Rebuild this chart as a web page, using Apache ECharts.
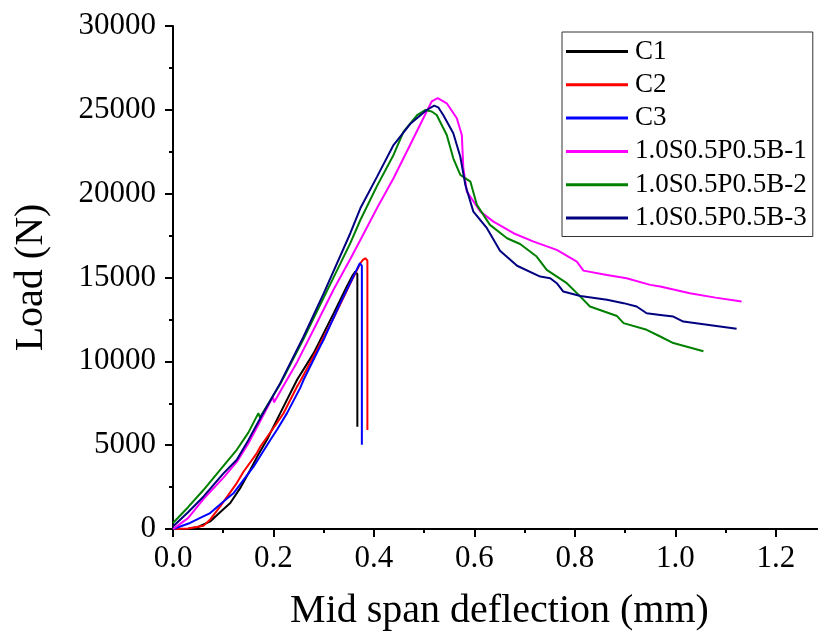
<!DOCTYPE html>
<html>
<head>
<meta charset="utf-8">
<script src="https://cdn.jsdelivr.net/npm/echarts@6/dist/echarts.min.js"></script>
<style>
  html, body { margin: 0; padding: 0; background: #fff; }
  #chart { width: 818px; height: 633px; }
</style>
</head>
<body>
<div id="chart"></div>
<script>
// Load vs. mid-span deflection, three plain specimens (C1-C3) and three hybrid ones
const seriesNames = ['C1', 'C2', 'C3', '1.0S0.5P0.5B-1', '1.0S0.5P0.5B-2', '1.0S0.5P0.5B-3'];
const seriesColors = ['#000000', '#ff0000', '#0000ff', '#ff00ff', '#008000', '#000080'];

const xTicks = [0, 0.2, 0.4, 0.6, 0.8, 1.0, 1.2];
const yTicks = [0, 5000, 10000, 15000, 20000, 25000, 30000];

// [deflection (mm), load (N)]
const c1 = [[0,0],[0.03,20],[0.05,120],[0.074,450],[0.09,900],[0.114,1550],[0.135,2500],[0.154,3530],[0.17,4450],[0.187,5320],[0.2135,6910],[0.247,8900],[0.28,10490],[0.30,11680],[0.32,12875],[0.346,14460],[0.358,15150],[0.363,15350],[0.367,15200],[0.367,6100]];
const c2 = [[0,0],[0.03,30],[0.061,200],[0.075,600],[0.094,1350],[0.127,2740],[0.14,3400],[0.167,4530],[0.174,4920],[0.207,6320],[0.22,6900],[0.247,8500],[0.253,8800],[0.287,10700],[0.32,12600],[0.353,14660],[0.373,15850],[0.378,16050],[0.383,16150],[0.387,16000],[0.387,5900]];
const c3 = [[0,0],[0.034,360],[0.05,600],[0.074,950],[0.107,1800],[0.121,2150],[0.16,3700],[0.194,5320],[0.207,5920],[0.227,6910],[0.253,8400],[0.26,8900],[0.293,10900],[0.30,11300],[0.333,13470],[0.359,15055],[0.372,15850],[0.376,15700],[0.376,5020]];
const hybrid1 = [[0,0],[0.03,650],[0.061,1800],[0.1,3050],[0.127,4000],[0.15,5100],[0.174,6450],[0.199,7900],[0.201,7550],[0.22,8550],[0.247,9950],[0.28,11900],[0.32,14300],[0.353,16100],[0.373,17240],[0.406,19130],[0.439,20920],[0.472,22900],[0.505,24900],[0.515,25500],[0.527,25700],[0.545,25390],[0.565,24500],[0.575,23500],[0.578,21520],[0.585,20120],[0.612,18930],[0.638,18330],[0.678,17640],[0.718,17140],[0.764,16650],[0.804,15950],[0.817,15410],[0.864,15150],[0.903,14960],[0.95,14560],[0.97,14460],[1.029,14065],[1.08,13800],[1.132,13565]];
const hybrid2 = [[0,360],[0.03,1300],[0.061,2340],[0.1,3750],[0.127,4725],[0.15,5750],[0.17,6910],[0.173,6650],[0.2135,8650],[0.26,11350],[0.30,13800],[0.353,17050],[0.373,18430],[0.406,20450],[0.439,22310],[0.459,23700],[0.486,24690],[0.502,24990],[0.515,24900],[0.525,24690],[0.545,23500],[0.558,22110],[0.572,21120],[0.592,20720],[0.605,19330],[0.631,18140],[0.665,17340],[0.691,17000],[0.724,16250],[0.744,15450],[0.784,14660],[0.811,13860],[0.83,13270],[0.884,12700],[0.897,12280],[0.943,11880],[0.97,11480],[0.996,11090],[1.056,10600]];
const hybrid3 = [[0,150],[0.03,1000],[0.061,1940],[0.1,3300],[0.127,4130],[0.15,5300],[0.174,6615],[0.2135,8700],[0.26,11480],[0.30,14050],[0.353,17640],[0.373,19130],[0.406,21000],[0.439,22900],[0.472,24150],[0.505,24990],[0.52,25250],[0.528,25150],[0.538,24690],[0.558,23600],[0.572,22200],[0.582,20520],[0.598,18930],[0.625,17940],[0.651,16600],[0.685,15700],[0.731,15055],[0.751,14960],[0.764,14660],[0.777,14160],[0.811,13900],[0.864,13670],[0.897,13470],[0.923,13270],[0.943,12870],[0.97,12770],[0.996,12670],[1.016,12370],[1.122,11940]];

const seriesData = [c1, c2, c3, hybrid1, hybrid2, hybrid3];

const FONT = '"Liberation Serif", "Times New Roman", serif';
const chart = echarts.init(document.getElementById('chart'), null, { renderer: 'canvas' });

const axisCommon = {
  axisLine: { show: true, onZero: false, lineStyle: { color: '#000', width: 2 } },
  axisTick: { show: true, inside: false, length: 8, lineStyle: { color: '#000', width: 2 } },
  minorTick: { show: true, splitNumber: 2, length: 4, lineStyle: { color: '#000', width: 2 } },
  splitLine: { show: false },
  minorSplitLine: { show: false }
};

chart.setOption({
  animation: false,
  backgroundColor: '#ffffff',
  grid: { left: 173, top: 26, right: -8, bottom: 104, containLabel: false, outerBoundsMode: 'none' },
  xAxis: Object.assign({}, axisCommon, {
    type: 'value',
    min: xTicks[0],
    max: 1.3,
    interval: xTicks[1] - xTicks[0],
    name: 'Mid span deflection (mm)',
    nameLocation: 'middle',
    nameGap: 62,
    nameTextStyle: { fontFamily: FONT, fontSize: 40, color: '#000' },
    axisLabel: {
      margin: 14,
      fontFamily: FONT, fontSize: 31, color: '#000',
      showMaxLabel: false,
      formatter: v => v.toFixed(1)
    }
  }),
  yAxis: Object.assign({}, axisCommon, {
    type: 'value',
    min: yTicks[0],
    max: yTicks[yTicks.length - 1],
    interval: yTicks[1] - yTicks[0],
    name: 'Load (N)',
    nameLocation: 'middle',
    nameGap: 122,
    nameTextStyle: { fontFamily: FONT, fontSize: 40, color: '#000' },
    axisLabel: { margin: 17, fontFamily: FONT, fontSize: 31, color: '#000', formatter: v => String(Math.round(v)) }
  }),
  legend: {
    show: true,
    orient: 'vertical',
    left: 562,
    top: 32,
    padding: [6, 6, 5, 4],
    itemWidth: 62,
    itemHeight: 3,
    itemGap: 6.3,
    icon: 'rect',
    borderColor: '#333',
    borderWidth: 1,
    backgroundColor: '#fff',
    textStyle: { fontFamily: FONT, fontSize: 27, lineHeight: 27, color: '#000', padding: [0, 0, 0, 2] },
    data: seriesNames
  },
  series: seriesNames.map((name, i) => ({
    name: name,
    type: 'line',
    data: seriesData[i],
    showSymbol: false,
    symbol: 'none',
    smooth: false,
    color: seriesColors[i],
    lineStyle: { color: seriesColors[i], width: 2 },
    z: 2 + i
  }))
});
</script>
</body>
</html>
